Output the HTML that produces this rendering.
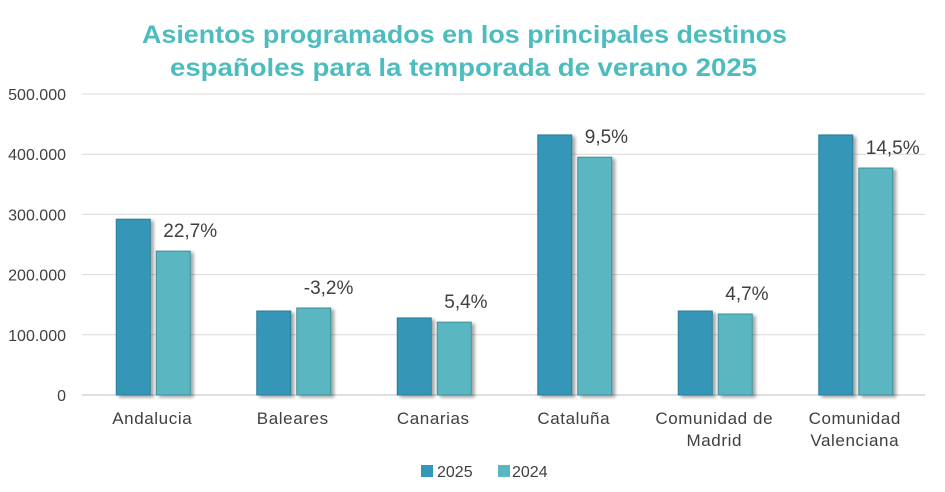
<!DOCTYPE html>
<html><head><meta charset="utf-8"><style>
body{margin:0;background:#fff;width:945px;height:487px;overflow:hidden;font-family:"Liberation Sans",sans-serif}
</style></head><body>
<svg id="c" width="945" height="487">
<defs><filter id="sh" x="-20%" y="-10%" width="150%" height="120%"><feDropShadow dx="3" dy="2" stdDeviation="1.5" flood-color="#000" flood-opacity="0.35"/></filter></defs>
<text x="142" y="43" textLength="645" lengthAdjust="spacingAndGlyphs" font-size="25" font-weight="bold" fill="#4cbcbf">Asientos programados en los principales destinos</text>
<text x="170" y="76" textLength="587" lengthAdjust="spacingAndGlyphs" font-size="25" font-weight="bold" fill="#4cbcbf">españoles  para la temporada de verano 2025</text>
<g id="grid"></g><g id="bars"></g><g id="labels"></g>
<g>
<rect x="421" y="465" width="12" height="12" fill="#3496b8"/>
<text x="437" y="477" font-size="16" fill="#404040">2025</text>
<rect x="498" y="465" width="12" height="12" fill="#5ab6c1"/>
<text x="512" y="477" font-size="16" fill="#404040">2024</text>
</g>
</svg>
<script>
const categories=[["Andalucia"],["Baleares"],["Canarias"],["Cataluña"],["Comunidad de","Madrid"],["Comunidad","Valenciana"]];
const values2025=[292000,139500,128000,432000,139500,432000];
const values2024=[239000,144500,121000,395000,134500,377000];
const pctLabels=["22,7%","-3,2%","5,4%","9,5%","4,7%","14,5%"];
const yTicks=[0,100000,200000,300000,400000,500000];
const yTickLabels=["0","100.000","200.000","300.000","400.000","500.000"];
const NS="http://www.w3.org/2000/svg";
const x0=82,x1=925,yb=395,yt=94,ymax=500000;
const y=v=>yb-(v/ymax)*(yb-yt);
const band=(x1-x0)/categories.length;
const cx=i=>x0+band*(i+0.5);
function mk(t,a,p){const e=document.createElementNS(NS,t);for(const k in a)e.setAttribute(k,a[k]);p.appendChild(e);return e;}
const G=document.getElementById('grid'),B=document.getElementById('bars'),L=document.getElementById('labels');
yTicks.forEach((v,i)=>{
 const l=mk('line',{x1:x0,x2:x1,y1:y(v),y2:y(v),stroke:i?'#d9d9d9':'#bfbfbf','stroke-width':1},G);
 
 
 const t=mk('text',{x:66,y:y(v)+6,'text-anchor':'end','font-size':16,fill:'#404040'},G);
 t.textContent=yTickLabels[i];
 
 
});
categories.forEach((c,i)=>{
 const b1=mk('rect',{x:cx(i)-36,y:y(values2025[i]),width:34,height:yb-y(values2025[i]),fill:'#3496b8',stroke:'#2a7d99','stroke-width':1,filter:'url(#sh)'},B);
 
 
 const b2=mk('rect',{x:cx(i)+4,y:y(values2024[i]),width:34,height:yb-y(values2024[i]),fill:'#5ab6c1',stroke:'#3f8f99','stroke-width':1,filter:'url(#sh)'},B);
 
 
 const p=mk('text',{x:cx(i)+11,y:y(values2024[i])-14,'font-size':19,fill:'#404040'},L);
 p.textContent=pctLabels[i];
 
 
 c.forEach((s,j)=>{
  const t=mk('text',{x:cx(i),y:424+j*22,'text-anchor':'middle','font-size':17,'letter-spacing':0.6,fill:'#404040'},L);
  t.textContent=s;
  
  
 });
});
</script>
</body></html>
